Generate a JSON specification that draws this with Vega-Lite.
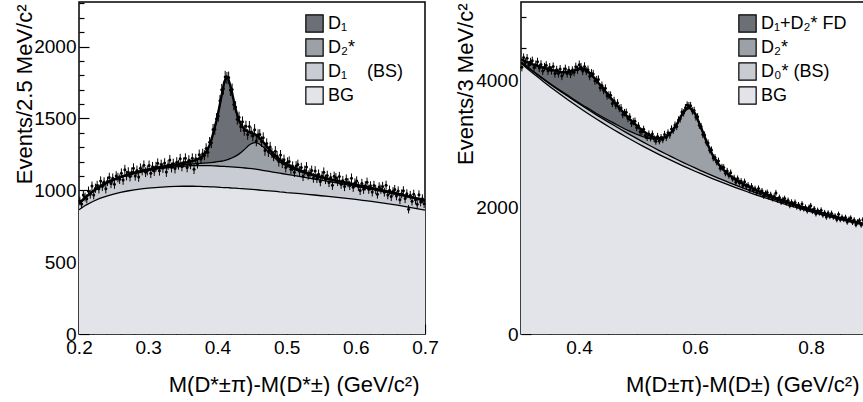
{
"$schema":"https://vega.github.io/schema/vega-lite/v6.json",
"padding":{"left":12,"top":1,"right":0,"bottom":0},
"bounds":"flush",
"spacing":96,
"config":{"view":{"stroke":"black","strokeWidth":1.5},"font":"Liberation Sans",
"axis":{"labelFont":"Liberation Sans","labelFontSize":19,"labelColor":"black","titleFont":"Liberation Sans","titleFontSize":22,"titleFontWeight":"normal","titleColor":"black","tickColor":"black","tickWidth":1.2,"domain":false,"grid":false,"labelFlush":false,"labelOverlap":false,"labelBound":false},
"legend":{"labelFont":"Liberation Sans","labelFontSize":18,"labelColor":"black"}},
"resolve":{"scale":{"color":"independent","x":"independent","y":"independent"}},
"datasets":{
"lc":[
{"x":0.20,"bg":865,"bs":40,"d2":2,"d1":2},{"x":0.21,"bg":897,"bs":53,"d2":2,"d1":2},{"x":0.22,"bg":922,"bs":68,"d2":2,"d1":2},{"x":0.23,"bg":943,"bs":79,"d2":2,"d1":2},{"x":0.24,"bg":960,"bs":88,"d2":3,"d1":2},{"x":0.25,"bg":974,"bs":96,"d2":3,"d1":2},{"x":0.26,"bg":985,"bs":103,"d2":3,"d1":2},{"x":0.27,"bg":995,"bs":108,"d2":3,"d1":3},{"x":0.28,"bg":1003,"bs":113,"d2":3,"d1":3},{"x":0.29,"bg":1010,"bs":117,"d2":4,"d1":3},{"x":0.30,"bg":1015,"bs":122,"d2":4,"d1":4},{"x":0.31,"bg":1019,"bs":126,"d2":5,"d1":5},{"x":0.32,"bg":1022,"bs":130,"d2":6,"d1":6},{"x":0.33,"bg":1025,"bs":133,"d2":7,"d1":7},{"x":0.34,"bg":1027,"bs":136,"d2":8,"d1":9},{"x":0.35,"bg":1028,"bs":139,"d2":9,"d1":13},{"x":0.36,"bg":1028,"bs":142,"d2":11,"d1":18},{"x":0.365,"bg":1028,"bs":143,"d2":12,"d1":22},{"x":0.37,"bg":1027,"bs":145,"d2":14,"d1":28},{"x":0.375,"bg":1027,"bs":145,"d2":15,"d1":38},{"x":0.38,"bg":1026,"bs":146,"d2":17,"d1":55},{"x":0.385,"bg":1025,"bs":146,"d2":20,"d1":85},{"x":0.39,"bg":1024,"bs":147,"d2":22,"d1":135},{"x":0.395,"bg":1023,"bs":147,"d2":25,"d1":220},{"x":0.40,"bg":1022,"bs":147,"d2":30,"d1":311},{"x":0.405,"bg":1020,"bs":147,"d2":35,"d1":432},{"x":0.41,"bg":1019,"bs":147,"d2":41,"d1":548},{"x":0.4135,"bg":1018,"bs":147,"d2":46,"d1":580},{"x":0.415,"bg":1018,"bs":147,"d2":49,"d1":574},{"x":0.42,"bg":1016,"bs":147,"d2":60,"d1":483},{"x":0.425,"bg":1015,"bs":146,"d2":73,"d1":356},{"x":0.43,"bg":1013,"bs":146,"d2":89,"d1":253},{"x":0.435,"bg":1012,"bs":145,"d2":109,"d1":181},{"x":0.44,"bg":1010,"bs":145,"d2":133,"d1":134},{"x":0.445,"bg":1008,"bs":145,"d2":158,"d1":95},{"x":0.45,"bg":1006,"bs":144,"d2":177,"d1":70},{"x":0.455,"bg":1004,"bs":143,"d2":186,"d1":55},{"x":0.46,"bg":1002,"bs":141,"d2":181,"d1":44},{"x":0.465,"bg":1000,"bs":139,"d2":168,"d1":36},{"x":0.47,"bg":998,"bs":137,"d2":149,"d1":30},{"x":0.475,"bg":996,"bs":135,"d2":129,"d1":26},{"x":0.48,"bg":994,"bs":133,"d2":109,"d1":22},{"x":0.485,"bg":992,"bs":131,"d2":93,"d1":19},{"x":0.49,"bg":989,"bs":130,"d2":79,"d1":17},{"x":0.495,"bg":987,"bs":128,"d2":67,"d1":15},{"x":0.50,"bg":984,"bs":127,"d2":58,"d1":13},{"x":0.51,"bg":980,"bs":123,"d2":44,"d1":11},{"x":0.52,"bg":976,"bs":119,"d2":34,"d1":9},{"x":0.53,"bg":972,"bs":114,"d2":26,"d1":8},{"x":0.54,"bg":967,"bs":111,"d2":21,"d1":7},{"x":0.55,"bg":962,"bs":108,"d2":17,"d1":6},{"x":0.56,"bg":957,"bs":105,"d2":14,"d1":5},{"x":0.57,"bg":952,"bs":102,"d2":12,"d1":5},{"x":0.58,"bg":947,"bs":98,"d2":10,"d1":4},{"x":0.59,"bg":942,"bs":94,"d2":9,"d1":4},{"x":0.60,"bg":936,"bs":91,"d2":8,"d1":4},{"x":0.61,"bg":930,"bs":88,"d2":7,"d1":3},{"x":0.62,"bg":924,"bs":85,"d2":6,"d1":3},{"x":0.63,"bg":917,"bs":83,"d2":6,"d1":3},{"x":0.64,"bg":910,"bs":80,"d2":5,"d1":3},{"x":0.65,"bg":903,"bs":77,"d2":5,"d1":3},{"x":0.66,"bg":896,"bs":74,"d2":4,"d1":2},{"x":0.67,"bg":888,"bs":71,"d2":4,"d1":2},{"x":0.68,"bg":880,"bs":68,"d2":4,"d1":2},{"x":0.69,"bg":871,"bs":65,"d2":3,"d1":2},{"x":0.70,"bg":862,"bs":62,"d2":3,"d1":2}
],
"lp":[
{"x":0.20125,"y":925,"e":30},{"x":0.20375,"y":904,"e":30},{"x":0.20625,"y":967,"e":31},{"x":0.20875,"y":953,"e":31},{"x":0.21125,"y":941,"e":31},{"x":0.21375,"y":994,"e":32},{"x":0.21625,"y":973,"e":31},{"x":0.21875,"y":1029,"e":32},{"x":0.22125,"y":968,"e":31},{"x":0.22375,"y":1014,"e":32},{"x":0.22625,"y":1034,"e":32},{"x":0.22875,"y":1010,"e":32},{"x":0.23125,"y":1064,"e":33},{"x":0.23375,"y":1027,"e":32},{"x":0.23625,"y":1057,"e":33},{"x":0.23875,"y":1010,"e":32},{"x":0.24125,"y":1062,"e":33},{"x":0.24375,"y":1089,"e":33},{"x":0.24625,"y":1047,"e":32},{"x":0.24875,"y":1084,"e":33},{"x":0.25125,"y":1042,"e":32},{"x":0.25375,"y":1100,"e":33},{"x":0.25625,"y":1088,"e":33},{"x":0.25875,"y":1077,"e":33},{"x":0.26125,"y":1119,"e":33},{"x":0.26375,"y":1071,"e":33},{"x":0.26625,"y":1143,"e":34},{"x":0.26875,"y":1102,"e":33},{"x":0.27125,"y":1126,"e":34},{"x":0.27375,"y":1095,"e":33},{"x":0.27625,"y":1125,"e":34},{"x":0.27875,"y":1153,"e":34},{"x":0.28125,"y":1100,"e":33},{"x":0.28375,"y":1138,"e":34},{"x":0.28625,"y":1092,"e":33},{"x":0.28875,"y":1153,"e":34},{"x":0.29125,"y":1138,"e":34},{"x":0.29375,"y":1174,"e":34},{"x":0.29625,"y":1126,"e":34},{"x":0.29875,"y":1138,"e":34},{"x":0.30125,"y":1173,"e":34},{"x":0.30375,"y":1118,"e":33},{"x":0.30625,"y":1163,"e":34},{"x":0.30875,"y":1134,"e":34},{"x":0.31125,"y":1164,"e":34},{"x":0.31375,"y":1188,"e":34},{"x":0.31625,"y":1136,"e":34},{"x":0.31875,"y":1179,"e":34},{"x":0.32125,"y":1155,"e":34},{"x":0.32375,"y":1189,"e":34},{"x":0.32625,"y":1127,"e":34},{"x":0.32875,"y":1176,"e":34},{"x":0.33125,"y":1211,"e":35},{"x":0.33375,"y":1158,"e":34},{"x":0.33625,"y":1186,"e":34},{"x":0.33875,"y":1151,"e":34},{"x":0.34125,"y":1195,"e":35},{"x":0.34375,"y":1177,"e":34},{"x":0.34625,"y":1219,"e":35},{"x":0.34875,"y":1166,"e":34},{"x":0.35125,"y":1194,"e":35},{"x":0.35375,"y":1222,"e":35},{"x":0.35625,"y":1159,"e":34},{"x":0.35875,"y":1209,"e":35},{"x":0.36125,"y":1180,"e":34},{"x":0.36375,"y":1222,"e":35},{"x":0.36625,"y":1147,"e":34},{"x":0.36875,"y":1219,"e":35},{"x":0.37125,"y":1185,"e":34},{"x":0.37375,"y":1248,"e":35},{"x":0.37625,"y":1218,"e":35},{"x":0.37875,"y":1254,"e":35},{"x":0.38125,"y":1244,"e":35},{"x":0.38375,"y":1291,"e":36},{"x":0.38625,"y":1264,"e":36},{"x":0.38875,"y":1334,"e":37},{"x":0.39125,"y":1330,"e":36},{"x":0.39375,"y":1423,"e":38},{"x":0.39625,"y":1424,"e":38},{"x":0.39875,"y":1498,"e":39},{"x":0.40125,"y":1516,"e":39},{"x":0.40375,"y":1623,"e":40},{"x":0.40625,"y":1699,"e":41},{"x":0.40875,"y":1707,"e":41},{"x":0.41125,"y":1789,"e":42},{"x":0.41375,"y":1781,"e":42},{"x":0.41625,"y":1784,"e":42},{"x":0.41875,"y":1697,"e":41},{"x":0.42125,"y":1702,"e":41},{"x":0.42375,"y":1596,"e":40},{"x":0.42625,"y":1580,"e":40},{"x":0.42875,"y":1495,"e":39},{"x":0.43125,"y":1508,"e":39},{"x":0.43375,"y":1444,"e":38},{"x":0.43625,"y":1476,"e":38},{"x":0.43875,"y":1418,"e":38},{"x":0.44125,"y":1446,"e":38},{"x":0.44375,"y":1388,"e":37},{"x":0.44625,"y":1444,"e":38},{"x":0.44875,"y":1405,"e":37},{"x":0.45125,"y":1377,"e":37},{"x":0.45375,"y":1422,"e":38},{"x":0.45625,"y":1343,"e":37},{"x":0.45875,"y":1387,"e":37},{"x":0.46125,"y":1388,"e":37},{"x":0.46375,"y":1339,"e":37},{"x":0.46625,"y":1366,"e":37},{"x":0.46875,"y":1276,"e":36},{"x":0.47125,"y":1325,"e":36},{"x":0.47375,"y":1268,"e":36},{"x":0.47625,"y":1301,"e":36},{"x":0.47875,"y":1259,"e":35},{"x":0.48125,"y":1237,"e":35},{"x":0.48375,"y":1271,"e":36},{"x":0.48625,"y":1238,"e":35},{"x":0.48875,"y":1200,"e":35},{"x":0.49125,"y":1245,"e":35},{"x":0.49375,"y":1189,"e":34},{"x":0.49625,"y":1213,"e":35},{"x":0.49875,"y":1158,"e":34},{"x":0.50125,"y":1194,"e":35},{"x":0.50375,"y":1201,"e":35},{"x":0.50625,"y":1147,"e":34},{"x":0.50875,"y":1167,"e":34},{"x":0.51125,"y":1126,"e":34},{"x":0.51375,"y":1169,"e":34},{"x":0.51625,"y":1179,"e":34},{"x":0.51875,"y":1133,"e":34},{"x":0.52125,"y":1158,"e":34},{"x":0.52375,"y":1097,"e":33},{"x":0.52625,"y":1137,"e":34},{"x":0.52875,"y":1162,"e":34},{"x":0.53125,"y":1106,"e":33},{"x":0.53375,"y":1120,"e":33},{"x":0.53625,"y":1138,"e":34},{"x":0.53875,"y":1086,"e":33},{"x":0.54125,"y":1134,"e":34},{"x":0.54375,"y":1083,"e":33},{"x":0.54625,"y":1112,"e":33},{"x":0.54875,"y":1061,"e":33},{"x":0.55125,"y":1100,"e":33},{"x":0.55375,"y":1125,"e":34},{"x":0.55625,"y":1076,"e":33},{"x":0.55875,"y":1103,"e":33},{"x":0.56125,"y":1054,"e":32},{"x":0.56375,"y":1089,"e":33},{"x":0.56625,"y":1035,"e":32},{"x":0.56875,"y":1097,"e":33},{"x":0.57125,"y":1087,"e":33},{"x":0.57375,"y":1062,"e":33},{"x":0.57625,"y":1095,"e":33},{"x":0.57875,"y":1042,"e":32},{"x":0.58125,"y":1067,"e":33},{"x":0.58375,"y":1026,"e":32},{"x":0.58625,"y":1077,"e":33},{"x":0.58875,"y":1053,"e":32},{"x":0.59125,"y":1034,"e":32},{"x":0.59375,"y":1084,"e":33},{"x":0.59625,"y":1021,"e":32},{"x":0.59875,"y":1051,"e":32},{"x":0.60125,"y":1064,"e":33},{"x":0.60375,"y":1027,"e":32},{"x":0.60625,"y":999,"e":32},{"x":0.60875,"y":1048,"e":32},{"x":0.61125,"y":1007,"e":32},{"x":0.61375,"y":1031,"e":32},{"x":0.61625,"y":1056,"e":32},{"x":0.61875,"y":1007,"e":32},{"x":0.62125,"y":1031,"e":32},{"x":0.62375,"y":988,"e":31},{"x":0.62625,"y":1034,"e":32},{"x":0.62875,"y":1006,"e":32},{"x":0.63125,"y":973,"e":31},{"x":0.63375,"y":1023,"e":32},{"x":0.63625,"y":1007,"e":32},{"x":0.63875,"y":1027,"e":32},{"x":0.64125,"y":987,"e":31},{"x":0.64375,"y":1035,"e":32},{"x":0.64625,"y":968,"e":31},{"x":0.64875,"y":1001,"e":32},{"x":0.65125,"y":956,"e":31},{"x":0.65375,"y":991,"e":31},{"x":0.65625,"y":1005,"e":32},{"x":0.65875,"y":961,"e":31},{"x":0.66125,"y":995,"e":32},{"x":0.66375,"y":934,"e":31},{"x":0.66625,"y":975,"e":31},{"x":0.66875,"y":996,"e":32},{"x":0.67125,"y":942,"e":31},{"x":0.67375,"y":976,"e":31},{"x":0.67625,"y":868,"e":29},{"x":0.67875,"y":965,"e":31},{"x":0.68125,"y":924,"e":30},{"x":0.68375,"y":973,"e":31},{"x":0.68625,"y":934,"e":31},{"x":0.68875,"y":903,"e":30},{"x":0.69125,"y":969,"e":31},{"x":0.69375,"y":918,"e":30},{"x":0.69625,"y":941,"e":31},{"x":0.69875,"y":906,"e":30}
],
"rc":[
{"x":0.30,"bg":4265,"bs":15,"d2":8,"fd":40},{"x":0.31,"bg":4188,"bs":20,"d2":8,"fd":70},{"x":0.32,"bg":4113,"bs":25,"d2":9,"fd":100},{"x":0.33,"bg":4039,"bs":30,"d2":10,"fd":140},{"x":0.34,"bg":3967,"bs":35,"d2":10,"fd":180},{"x":0.35,"bg":3896,"bs":40,"d2":11,"fd":220},{"x":0.36,"bg":3827,"bs":45,"d2":12,"fd":260},{"x":0.37,"bg":3760,"bs":50,"d2":13,"fd":300},{"x":0.38,"bg":3694,"bs":55,"d2":14,"fd":360},{"x":0.39,"bg":3630,"bs":57,"d2":15,"fd":440},{"x":0.40,"bg":3567,"bs":60,"d2":16,"fd":540},{"x":0.41,"bg":3505,"bs":62,"d2":18,"fd":590},{"x":0.42,"bg":3445,"bs":65,"d2":20,"fd":570},{"x":0.43,"bg":3386,"bs":66,"d2":22,"fd":520},{"x":0.44,"bg":3329,"bs":68,"d2":25,"fd":460},{"x":0.45,"bg":3273,"bs":69,"d2":29,"fd":400},{"x":0.46,"bg":3218,"bs":70,"d2":33,"fd":340},{"x":0.47,"bg":3164,"bs":70,"d2":38,"fd":285},{"x":0.48,"bg":3111,"bs":70,"d2":45,"fd":230},{"x":0.49,"bg":3060,"bs":69,"d2":54,"fd":180},{"x":0.50,"bg":3009,"bs":68,"d2":66,"fd":135},{"x":0.51,"bg":2960,"bs":67,"d2":82,"fd":95},{"x":0.52,"bg":2912,"bs":66,"d2":105,"fd":55},{"x":0.53,"bg":2865,"bs":65,"d2":140,"fd":25},{"x":0.54,"bg":2819,"bs":63,"d2":190,"fd":8},{"x":0.55,"bg":2774,"bs":62,"d2":270,"fd":0},{"x":0.56,"bg":2730,"bs":60,"d2":395,"fd":0},{"x":0.57,"bg":2687,"bs":58,"d2":580,"fd":0},{"x":0.58,"bg":2645,"bs":56,"d2":800,"fd":0},{"x":0.59,"bg":2604,"bs":54,"d2":920,"fd":0},{"x":0.60,"bg":2564,"bs":52,"d2":860,"fd":0},{"x":0.61,"bg":2525,"bs":50,"d2":690,"fd":0},{"x":0.62,"bg":2487,"bs":48,"d2":490,"fd":0},{"x":0.63,"bg":2449,"bs":46,"d2":330,"fd":0},{"x":0.64,"bg":2412,"bs":44,"d2":225,"fd":0},{"x":0.65,"bg":2377,"bs":42,"d2":160,"fd":0},{"x":0.66,"bg":2342,"bs":40,"d2":115,"fd":0},{"x":0.67,"bg":2307,"bs":38,"d2":88,"fd":0},{"x":0.68,"bg":2274,"bs":36,"d2":70,"fd":0},{"x":0.69,"bg":2241,"bs":34,"d2":57,"fd":0},{"x":0.70,"bg":2209,"bs":32,"d2":47,"fd":0},{"x":0.72,"bg":2147,"bs":28,"d2":35,"fd":0},{"x":0.74,"bg":2088,"bs":25,"d2":28,"fd":0},{"x":0.76,"bg":2031,"bs":22,"d2":23,"fd":0},{"x":0.78,"bg":1977,"bs":19,"d2":19,"fd":0},{"x":0.80,"bg":1925,"bs":17,"d2":16,"fd":0},{"x":0.82,"bg":1876,"bs":15,"d2":14,"fd":0},{"x":0.84,"bg":1828,"bs":13,"d2":12,"fd":0},{"x":0.86,"bg":1783,"bs":11,"d2":11,"fd":0},{"x":0.88,"bg":1740,"bs":10,"d2":10,"fd":0},{"x":0.90,"bg":1698,"bs":9,"d2":9,"fd":0}
],
"rp":[
{"x":0.3015,"y":4202,"e":65},{"x":0.3045,"y":4354,"e":66},{"x":0.3075,"y":4277,"e":65},{"x":0.3105,"y":4344,"e":66},{"x":0.3135,"y":4238,"e":65},{"x":0.3165,"y":4287,"e":65},{"x":0.3195,"y":4304,"e":66},{"x":0.3225,"y":4200,"e":65},{"x":0.3255,"y":4242,"e":65},{"x":0.3285,"y":4288,"e":65},{"x":0.3315,"y":4190,"e":65},{"x":0.3345,"y":4247,"e":65},{"x":0.3375,"y":4144,"e":64},{"x":0.3405,"y":4206,"e":65},{"x":0.3435,"y":4233,"e":65},{"x":0.3465,"y":4146,"e":64},{"x":0.3495,"y":4203,"e":65},{"x":0.3525,"y":4151,"e":64},{"x":0.3555,"y":4214,"e":65},{"x":0.3585,"y":4102,"e":64},{"x":0.3615,"y":4161,"e":65},{"x":0.3645,"y":4104,"e":64},{"x":0.3675,"y":4173,"e":65},{"x":0.3705,"y":4063,"e":64},{"x":0.3735,"y":4133,"e":64},{"x":0.3765,"y":4178,"e":65},{"x":0.3795,"y":4103,"e":64},{"x":0.3825,"y":4158,"e":64},{"x":0.3855,"y":4093,"e":64},{"x":0.3885,"y":4154,"e":64},{"x":0.3915,"y":4123,"e":64},{"x":0.3945,"y":4210,"e":65},{"x":0.3975,"y":4163,"e":65},{"x":0.4005,"y":4243,"e":65},{"x":0.4035,"y":4205,"e":65},{"x":0.4065,"y":4143,"e":64},{"x":0.4095,"y":4215,"e":65},{"x":0.4125,"y":4141,"e":64},{"x":0.4155,"y":4164,"e":65},{"x":0.4185,"y":4061,"e":64},{"x":0.4215,"y":4109,"e":64},{"x":0.4245,"y":4097,"e":64},{"x":0.4275,"y":3990,"e":63},{"x":0.4305,"y":4003,"e":63},{"x":0.4335,"y":4010,"e":63},{"x":0.4365,"y":3881,"e":62},{"x":0.4395,"y":3913,"e":63},{"x":0.4425,"y":3839,"e":62},{"x":0.4455,"y":3871,"e":62},{"x":0.4485,"y":3753,"e":61},{"x":0.4515,"y":3764,"e":61},{"x":0.4545,"y":3761,"e":61},{"x":0.4575,"y":3633,"e":60},{"x":0.4605,"y":3676,"e":61},{"x":0.4635,"y":3600,"e":60},{"x":0.4665,"y":3639,"e":60},{"x":0.4695,"y":3553,"e":60},{"x":0.4725,"y":3562,"e":60},{"x":0.4755,"y":3457,"e":59},{"x":0.4785,"y":3486,"e":59},{"x":0.4815,"y":3492,"e":59},{"x":0.4845,"y":3394,"e":58},{"x":0.4875,"y":3421,"e":58},{"x":0.4905,"y":3319,"e":58},{"x":0.4935,"y":3343,"e":58},{"x":0.4965,"y":3353,"e":58},{"x":0.4995,"y":3252,"e":57},{"x":0.5025,"y":3280,"e":57},{"x":0.5055,"y":3187,"e":56},{"x":0.5085,"y":3190,"e":56},{"x":0.5115,"y":3224,"e":57},{"x":0.5145,"y":3129,"e":56},{"x":0.5175,"y":3095,"e":56},{"x":0.5205,"y":3151,"e":56},{"x":0.5235,"y":3088,"e":56},{"x":0.5265,"y":3150,"e":56},{"x":0.5295,"y":3077,"e":55},{"x":0.5325,"y":3036,"e":55},{"x":0.5355,"y":3112,"e":56},{"x":0.5385,"y":3042,"e":55},{"x":0.5415,"y":3094,"e":56},{"x":0.5445,"y":3062,"e":55},{"x":0.5475,"y":3144,"e":56},{"x":0.5505,"y":3095,"e":56},{"x":0.5535,"y":3169,"e":56},{"x":0.5565,"y":3133,"e":56},{"x":0.5595,"y":3231,"e":57},{"x":0.5625,"y":3210,"e":57},{"x":0.5655,"y":3292,"e":57},{"x":0.5685,"y":3269,"e":57},{"x":0.5715,"y":3371,"e":58},{"x":0.5745,"y":3389,"e":58},{"x":0.5775,"y":3497,"e":59},{"x":0.5805,"y":3485,"e":59},{"x":0.5835,"y":3563,"e":60},{"x":0.5865,"y":3606,"e":60},{"x":0.5895,"y":3594,"e":60},{"x":0.5925,"y":3597,"e":60},{"x":0.5955,"y":3512,"e":59},{"x":0.5985,"y":3521,"e":59},{"x":0.6015,"y":3419,"e":58},{"x":0.6045,"y":3421,"e":58},{"x":0.6075,"y":3288,"e":57},{"x":0.6105,"y":3268,"e":57},{"x":0.6135,"y":3141,"e":56},{"x":0.6165,"y":3134,"e":56},{"x":0.6195,"y":3022,"e":55},{"x":0.6225,"y":3010,"e":55},{"x":0.6255,"y":2895,"e":54},{"x":0.6285,"y":2900,"e":54},{"x":0.6315,"y":2773,"e":53},{"x":0.6345,"y":2780,"e":53},{"x":0.6375,"y":2707,"e":52},{"x":0.6405,"y":2726,"e":52},{"x":0.6435,"y":2611,"e":51},{"x":0.6465,"y":2630,"e":51},{"x":0.6495,"y":2624,"e":51},{"x":0.6525,"y":2534,"e":50},{"x":0.6555,"y":2566,"e":51},{"x":0.6585,"y":2497,"e":50},{"x":0.6615,"y":2542,"e":50},{"x":0.6645,"y":2448,"e":49},{"x":0.6675,"y":2459,"e":50},{"x":0.6705,"y":2390,"e":49},{"x":0.6735,"y":2449,"e":49},{"x":0.6765,"y":2383,"e":49},{"x":0.6795,"y":2407,"e":49},{"x":0.6825,"y":2338,"e":48},{"x":0.6855,"y":2399,"e":49},{"x":0.6885,"y":2329,"e":48},{"x":0.6915,"y":2345,"e":48},{"x":0.6945,"y":2267,"e":48},{"x":0.6975,"y":2329,"e":48},{"x":0.7005,"y":2266,"e":48},{"x":0.7035,"y":2289,"e":48},{"x":0.7065,"y":2228,"e":47},{"x":0.7095,"y":2291,"e":48},{"x":0.7125,"y":2229,"e":47},{"x":0.7155,"y":2253,"e":47},{"x":0.7185,"y":2176,"e":47},{"x":0.7215,"y":2215,"e":47},{"x":0.7245,"y":2229,"e":47},{"x":0.7275,"y":2159,"e":46},{"x":0.7305,"y":2194,"e":47},{"x":0.7335,"y":2134,"e":46},{"x":0.7365,"y":2168,"e":47},{"x":0.7395,"y":2223,"e":47},{"x":0.7425,"y":2113,"e":46},{"x":0.7455,"y":2149,"e":46},{"x":0.7485,"y":2079,"e":46},{"x":0.7515,"y":2114,"e":46},{"x":0.7545,"y":2134,"e":46},{"x":0.7575,"y":2069,"e":45},{"x":0.7605,"y":2104,"e":46},{"x":0.7635,"y":2025,"e":45},{"x":0.7665,"y":2076,"e":46},{"x":0.7695,"y":2037,"e":45},{"x":0.7725,"y":2073,"e":46},{"x":0.7755,"y":2004,"e":45},{"x":0.7785,"y":2035,"e":45},{"x":0.7815,"y":1980,"e":44},{"x":0.7845,"y":2047,"e":45},{"x":0.7875,"y":1973,"e":44},{"x":0.7905,"y":1995,"e":45},{"x":0.7935,"y":1941,"e":44},{"x":0.7965,"y":1993,"e":45},{"x":0.7995,"y":2019,"e":45},{"x":0.8025,"y":1936,"e":44},{"x":0.8055,"y":1973,"e":44},{"x":0.8085,"y":1895,"e":44},{"x":0.8115,"y":1947,"e":44},{"x":0.8145,"y":1909,"e":44},{"x":0.8175,"y":1951,"e":44},{"x":0.8205,"y":1874,"e":43},{"x":0.8235,"y":1911,"e":44},{"x":0.8265,"y":1843,"e":43},{"x":0.8295,"y":1905,"e":44},{"x":0.8325,"y":1852,"e":43},{"x":0.8355,"y":1900,"e":44},{"x":0.8385,"y":1842,"e":43},{"x":0.8415,"y":1859,"e":43},{"x":0.8445,"y":1802,"e":42},{"x":0.8475,"y":1885,"e":43},{"x":0.8505,"y":1803,"e":42},{"x":0.8535,"y":1841,"e":43},{"x":0.8565,"y":1804,"e":42},{"x":0.8595,"y":1836,"e":43},{"x":0.8625,"y":1764,"e":42},{"x":0.8655,"y":1808,"e":43},{"x":0.8685,"y":1826,"e":43},{"x":0.8715,"y":1759,"e":42},{"x":0.8745,"y":1797,"e":42},{"x":0.8775,"y":1721,"e":41},{"x":0.8805,"y":1769,"e":42},{"x":0.8835,"y":1788,"e":42},{"x":0.8865,"y":1716,"e":41},{"x":0.8895,"y":1800,"e":42},{"x":0.8925,"y":1718,"e":41},{"x":0.8955,"y":1677,"e":41},{"x":0.8985,"y":1740,"e":42}
]},
"hconcat":[
{"width":346,"height":332,
"resolve":{"axis":{"x":"independent","y":"independent"}},
"layer":[
{"data":{"name":"lc"},"transform":[{"fold":["bg","bs","d2","d1"],"as":["comp","v"]},{"stack":"v","groupby":["x"],"as":["lo","hi"]}],
"mark":{"type":"area","clip":true},
"encoding":{
"x":{"field":"x","type":"quantitative","scale":{"domain":[0.2,0.7],"nice":false,"zero":false},
"axis":{"values":[0.2,0.3,0.4,0.5,0.6,0.7],"format":".1f","tickSize":-10,"labelPadding":14,"title":"M(D*±π)-M(D*±) (GeV/c²)","titleX":340,"titleY":57,"titleAlign":"right","titleBaseline":"alphabetic"}},
"y":{"field":"hi","type":"quantitative","scale":{"domain":[0,2310],"nice":false},
"axis":{"values":[0,500,1000,1500,2000],"format":"d","tickSize":-10,"labelPadding":13,"title":"Events/2.5 MeV/c²","titleX":-48,"titleY":2,"titleAngle":-90,"titleAlign":"right","titleBaseline":"alphabetic"}},
"y2":{"field":"lo"},
"color":{"field":"comp","type":"nominal","scale":{"domain":["d1","d2","bs","bg"],"range":["#6c6f75","#9ca0a7","#c9ccd3","#e2e4e9"]},
"legend":{"orient":"none","legendX":226,"legendY":12,"title":null,"symbolType":"square","symbolSize":300,"symbolStrokeColor":"black","symbolStrokeWidth":1.2,"symbolOpacity":1,"rowPadding":1,"labelOffset":4,
"labelExpr":"{'d1':'D₁','d2':'D₂*','bs':'D₁\u00a0\u00a0\u00a0\u00a0(BS)','bg':'BG'}[datum.value]"}}}},
{"data":{"name":"lc"},"transform":[{"fold":["bg","bs","d2","d1"],"as":["comp","v"]},{"stack":"v","groupby":["x"],"as":["lo","hi"]},{"filter":"datum.comp != 'd1'"}],
"mark":{"type":"line","color":"black","strokeWidth":1.3,"clip":true},
"encoding":{
"x":{"field":"x","type":"quantitative","axis":{"orient":"bottom","values":[0.22,0.24,0.26,0.28,0.32,0.34,0.36,0.38,0.42,0.44,0.46,0.48,0.52,0.54,0.56,0.58,0.62,0.64,0.66,0.68],"tickSize":-5,"labels":false,"title":null}},
"y":{"field":"hi","type":"quantitative","axis":{"orient":"left","values":[100,200,300,400,600,700,800,900,1100,1200,1300,1400,1600,1700,1800,1900,2100,2200,2300],"tickSize":-5,"labels":false,"title":null}},
"detail":{"field":"comp"}}},
{"data":{"name":"lc"},"transform":[{"fold":["bg","bs","d2","d1"],"as":["comp","v"]},{"stack":"v","groupby":["x"],"as":["lo","hi"]},{"filter":"datum.comp == 'd1'"}],
"mark":{"type":"line","color":"black","strokeWidth":2.4,"clip":true},
"encoding":{"x":{"field":"x","type":"quantitative","axis":null},"y":{"field":"hi","type":"quantitative","axis":null}}},
{"data":{"name":"lp"},"mark":{"type":"errorbar","color":"black","thickness":1},
"encoding":{"x":{"field":"x","type":"quantitative","axis":null},"y":{"field":"y","type":"quantitative","axis":null},"yError":{"field":"e"}}},
{"data":{"name":"lp"},"mark":{"type":"point","filled":true,"color":"black","size":9,"opacity":1},
"encoding":{"x":{"field":"x","type":"quantitative","axis":null},"y":{"field":"y","type":"quantitative","axis":null}}}
]},
{"width":348,"height":332,
"resolve":{"axis":{"x":"independent","y":"independent"}},
"layer":[
{"data":{"name":"rc"},"transform":[{"fold":["bg","bs","d2","fd"],"as":["comp","v"]},{"stack":"v","groupby":["x"],"as":["lo","hi"]}],
"mark":{"type":"area","clip":true},
"encoding":{
"x":{"field":"x","type":"quantitative","scale":{"domain":[0.3,0.9],"nice":false,"zero":false},
"axis":{"values":[0.4,0.6,0.8],"format":".1f","tickSize":-10,"labelPadding":14,"title":"M(D±π)-M(D±) (GeV/c²)","titleX":338,"titleY":57,"titleAlign":"right","titleBaseline":"alphabetic"}},
"y":{"field":"hi","type":"quantitative","scale":{"domain":[0,5230],"nice":false},
"axis":{"values":[0,2000,4000],"format":"d","tickSize":-10,"labelPadding":13,"title":"Events/3 MeV/c²","titleX":-49,"titleY":1,"titleAngle":-90,"titleAlign":"right","titleBaseline":"alphabetic"}},
"y2":{"field":"lo"},
"color":{"field":"comp","type":"nominal","scale":{"domain":["fd","d2","bs","bg"],"range":["#6c6f75","#9ca0a7","#c9ccd3","#e2e4e9"]},
"legend":{"orient":"none","legendX":217,"legendY":12,"title":null,"symbolType":"square","symbolSize":300,"symbolStrokeColor":"black","symbolStrokeWidth":1.2,"symbolOpacity":1,"rowPadding":1,"labelOffset":4,
"labelExpr":"{'fd':'D₁+D₂* FD','d2':'D₂*','bs':'D₀* (BS)','bg':'BG'}[datum.value]"}}}},
{"data":{"name":"rc"},"transform":[{"fold":["bg","bs","d2","fd"],"as":["comp","v"]},{"stack":"v","groupby":["x"],"as":["lo","hi"]},{"filter":"datum.comp != 'fd'"}],
"mark":{"type":"line","color":"black","strokeWidth":1.3,"clip":true},
"encoding":{
"x":{"field":"x","type":"quantitative","axis":{"orient":"bottom","values":[0.35,0.45,0.5,0.55,0.65,0.7,0.75,0.85],"tickSize":-5,"labels":false,"title":null}},
"y":{"field":"hi","type":"quantitative","axis":{"orient":"left","values":[500,1000,1500,2500,3000,3500,4500,5000],"tickSize":-5,"labels":false,"title":null}},
"detail":{"field":"comp"}}},
{"data":{"name":"rc"},"transform":[{"fold":["bg","bs","d2","fd"],"as":["comp","v"]},{"stack":"v","groupby":["x"],"as":["lo","hi"]},{"filter":"datum.comp == 'fd'"}],
"mark":{"type":"line","color":"black","strokeWidth":2.4,"clip":true},
"encoding":{"x":{"field":"x","type":"quantitative","axis":null},"y":{"field":"hi","type":"quantitative","axis":null}}},
{"data":{"name":"rp"},"mark":{"type":"errorbar","color":"black","thickness":1},
"encoding":{"x":{"field":"x","type":"quantitative","axis":null},"y":{"field":"y","type":"quantitative","axis":null},"yError":{"field":"e"}}},
{"data":{"name":"rp"},"mark":{"type":"point","filled":true,"color":"black","size":9,"opacity":1},
"encoding":{"x":{"field":"x","type":"quantitative","axis":null},"y":{"field":"y","type":"quantitative","axis":null}}}
]}
]}
